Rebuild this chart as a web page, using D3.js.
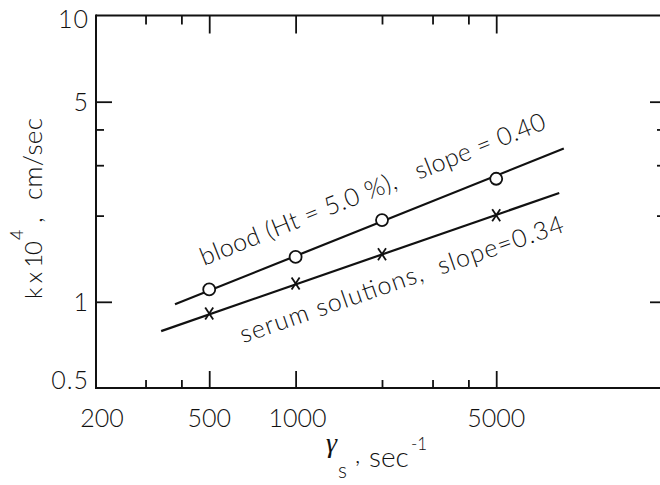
<!DOCTYPE html>
<html><head><meta charset="utf-8">
<script src="https://cdn.jsdelivr.net/npm/d3@7"></script>
<style>
html,body{margin:0;padding:0;background:#fff;}
svg{display:block;}
text{font-family:Lato,"Open Sans","DejaVu Sans",sans-serif;font-weight:300;fill:#111;}
</style></head><body>
<div id="chart"></div>
<script>
// ---- data ----
const shear = [500, 1000, 2000, 5000];
const bloodK = [1.105, 1.435, 1.93, 2.69];
const serumK = [0.911, 1.159, 1.467, 2.007];
const bloodFitShear = [380, 8600];
const bloodFitK = [0.98, 3.43];
const serumFitShear = [340, 8290];
const serumFitK = [0.79, 2.40];
const xMajorTicks = [500, 1000, 5000];
const xMinorTicks = [300, 400, 2000, 3000, 4000];
const xTickLabels = [200, 500, 1000, 5000];
const yMajorTicks = [1, 5];
const yMinorTicks = [2, 3, 4];
const yTickLabels = [0.5, 1, 5, 10];
const bloodLabel = "blood (Ht = 5.0 %),   slope = 0.40";
const serumLabel = "serum solutions,  slope=0.34";
const bloodLabelAt = [480, 1.335];
const serumLabelAt = [657, 0.716];

const W = 660, H = 485;
const svg = d3.select("#chart").append("svg").attr("width", W).attr("height", H);
const x = d3.scaleLog().domain([200, 20000]).range([95, 669]);
const y = d3.scaleLog().domain([0.5, 10]).range([388, 15.5]);
const pLeft = 96, pRight = 664, pTop = y(10), pBottom = y(0.5);
const ink = "#111";

// frame
const frame = svg.append("g").attr("stroke", ink).attr("stroke-width", 2).attr("fill", "none");
frame.append("line").attr("x1", pLeft).attr("x2", pLeft).attr("y1", pTop - 1).attr("y2", pBottom + 1);
frame.append("line").attr("x1", pLeft).attr("x2", pRight).attr("y1", pTop).attr("y2", pTop);
frame.append("line").attr("x1", pLeft).attr("x2", pRight).attr("y1", pBottom).attr("y2", pBottom);
frame.append("line").attr("x1", pRight).attr("x2", pRight).attr("y1", pTop).attr("y2", pBottom);

function styleAxis(g){
  g.select(".domain").remove();
  g.selectAll("text").remove();
  g.selectAll(".tick line").attr("stroke", ink).attr("stroke-width", 1.8);
}
// bottom ticks (pointing up)
svg.append("g").attr("transform", `translate(0,${pBottom})`)
  .call(d3.axisTop(x).tickValues(xMajorTicks).tickSize(17)).call(styleAxis);
svg.append("g").attr("transform", `translate(0,${pBottom})`)
  .call(d3.axisTop(x).tickValues(xMinorTicks).tickSize(8)).call(styleAxis);
// top ticks (pointing down)
svg.append("g").attr("transform", `translate(0,${pTop})`)
  .call(d3.axisBottom(x).tickValues(xMajorTicks).tickSize(18)).call(styleAxis);
svg.append("g").attr("transform", `translate(0,${pTop})`)
  .call(d3.axisBottom(x).tickValues(xMinorTicks).tickSize(9)).call(styleAxis);
// left ticks (pointing right)
svg.append("g").attr("transform", `translate(${pLeft},0)`)
  .call(d3.axisRight(y).tickValues(yMajorTicks).tickSize(16)).call(styleAxis);
svg.append("g").attr("transform", `translate(${pLeft},0)`)
  .call(d3.axisRight(y).tickValues(yMinorTicks).tickSize(8)).call(styleAxis);
// right ticks (pointing left)
svg.append("g").attr("transform", `translate(${pRight},0)`)
  .call(d3.axisLeft(y).tickValues(yMajorTicks).tickSize(14)).call(styleAxis);
svg.append("g").attr("transform", `translate(${pRight},0)`)
  .call(d3.axisLeft(y).tickValues(yMinorTicks).tickSize(7)).call(styleAxis);

// tick labels
svg.append("g").selectAll("text").data(xTickLabels).join("text")
  .attr("x", d => Math.max(x(d), 102) + (d === 1000 ? 2 : 0)).attr("y", 427)
  .attr("text-anchor", "middle").attr("font-size", 25)
  .text(d => d);
svg.append("g").selectAll("text").data(yTickLabels).join("text")
  .attr("x", 89).attr("y", d => Math.min(Math.max(y(d), 19), 380) + 9)
  .attr("text-anchor", "end").attr("font-size", 25).attr("letter-spacing", 1)
  .text(d => d);

// fit lines
const line = d3.line().x(d => x(d[0])).y(d => y(d[1]));
svg.append("path").datum(d3.zip(bloodFitShear, bloodFitK)).attr("d", line)
  .attr("fill", "none").attr("stroke", ink).attr("stroke-width", 2.2);
svg.append("path").datum(d3.zip(serumFitShear, serumFitK)).attr("d", line)
  .attr("fill", "none").attr("stroke", ink).attr("stroke-width", 2.2);

// markers
svg.append("g").selectAll("circle").data(d3.zip(shear, bloodK)).join("circle")
  .attr("cx", d => x(d[0])).attr("cy", d => y(d[1])).attr("r", 6)
  .attr("fill", "#fff").attr("stroke", ink).attr("stroke-width", 1.8);
const cross = svg.append("g").attr("stroke", ink).attr("stroke-width", 1.8);
d3.zip(shear, serumK).forEach(d => {
  const cx = x(d[0]), cy = y(d[1]);
  cross.append("line").attr("x1", cx - 4).attr("y1", cy - 6).attr("x2", cx + 4).attr("y2", cy + 6);
  cross.append("line").attr("x1", cx - 4).attr("y1", cy + 6).attr("x2", cx + 4).attr("y2", cy - 6);
});

// rotated annotations, angle from fit line in pixel space
function angleOf(xs, ks){
  return Math.atan2(y(ks[1]) - y(ks[0]), x(xs[1]) - x(xs[0])) * 180 / Math.PI;
}
const aB = angleOf(bloodFitShear, bloodFitK);
const aS = angleOf(serumFitShear, serumFitK);
svg.append("text")
  .attr("transform", `translate(${x(bloodLabelAt[0])},${y(bloodLabelAt[1])}) rotate(${aB})`)
  .attr("font-size", 25).attr("textLength", 370).attr("lengthAdjust", "spacing")
  .style("white-space", "pre")
  .text(bloodLabel);
svg.append("text")
  .attr("transform", `translate(${x(serumLabelAt[0])},${y(serumLabelAt[1])}) rotate(${aS})`)
  .attr("font-size", 25).attr("textLength", 341).attr("lengthAdjust", "spacing")
  .style("white-space", "pre")
  .text(serumLabel);

// y axis title (rotated)
const yt = svg.append("g").attr("transform", "translate(42,0) rotate(-90)");
yt.append("text").attr("x", -299).attr("y", 0).attr("font-size", 24)
  .attr("textLength", 58).attr("lengthAdjust", "spacing").style("white-space", "pre").text("k x 10");
yt.append("text").attr("x", -240).attr("y", -19).attr("font-size", 18).text("4");
yt.append("text").attr("x", -223).attr("y", 0).attr("font-size", 26).text(",");
yt.append("text").attr("x", -200).attr("y", 0).attr("font-size", 26)
  .attr("textLength", 82).attr("lengthAdjust", "spacing").text("cm/sec");

// x axis title
svg.append("text").attr("x", 326).attr("y", 452).attr("font-size", 28)
  .style("font-family", "'Liberation Serif',serif").style("font-style", "italic").style("font-weight", 400)
  .text("γ");
svg.append("text").attr("x", 338).attr("y", 478).attr("font-size", 21).text("s");
svg.append("text").attr("x", 355).attr("y", 463).attr("font-size", 24).text(",");
svg.append("text").attr("x", 369).attr("y", 467).attr("font-size", 28).text("sec");
svg.append("text").attr("x", 411).attr("y", 450).attr("font-size", 17).text("-1");
</script>
</body></html>
